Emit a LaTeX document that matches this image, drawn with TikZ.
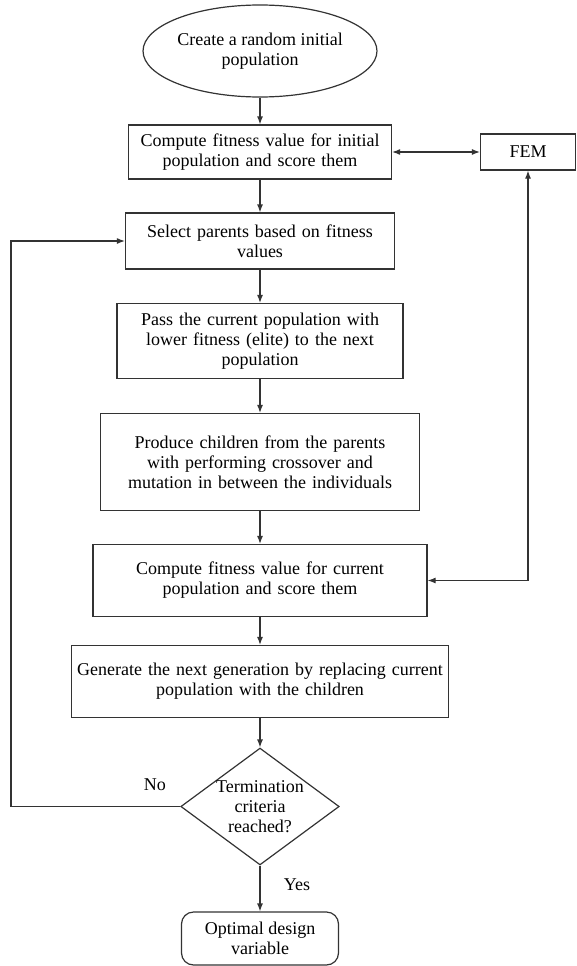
\documentclass[tikz,border=0pt]{standalone}
\usepackage{fontspec}
\setmainfont{Liberation Serif}
\usetikzlibrary{shapes.geometric,arrows.meta}

\begin{document}
\begin{tikzpicture}[
    x=1pt, y=1pt,
    node distance=100pt,
    font=\fontsize{18}{20}\selectfont,
    >={Latex[length=8pt,width=6pt]},
    process/.style={rectangle, draw=black!80, very thick, inner sep=4pt, text centered},
    startstop/.style={ellipse, draw=black!80, very thick, inner sep=0pt, minimum width=232pt, minimum height=92pt, align=center},
    decision/.style={diamond, draw=black!80, very thick, aspect=1.355, inner sep=0pt, align=center},
    finish/.style={rectangle, draw=black!80, very thick, rounded corners=12pt, minimum width=157pt, minimum height=53pt, align=center}
]
\useasboundingbox (0,0) rectangle (576,-966);

% Steps
\node[startstop] (start) at (260,-51) {Create a random initial\\population};

\node[process, below of=start, yshift=-1pt, text width=255pt, minimum height=54pt] (fitA) {
    Compute fitness value for initial\\
    population and score them
};

\node[process, right of=fitA, xshift=168pt, text width=87pt, minimum height=36pt] (fem) {FEM};

\node[process, below of=fitA, yshift=11pt, text width=261pt, minimum height=56pt] (select) {
    Select parents based on fitness\\
    values
};

\node[process, below of=select, text width=278pt, minimum height=75pt] (elite) {
    Pass the current population with\\
    lower fitness (elite) to the next\\
    population
};

\node[process, below of=elite, yshift=-21pt, text width=311pt, minimum height=97pt] (breed) {
    Produce children from the parents\\
    with performing crossover and\\
    mutation in between the individuals
};

\node[process, below of=breed, yshift=-18.5pt, text width=326pt, minimum height=72pt] (fitB) {
    Compute fitness value for current\\
    population and score them
};

\node[process, below of=fitB, yshift=-1pt, text width=369pt, minimum height=72pt] (nextgen) {
    Generate the next generation by replacing current\\
    population with the children
};

\node[decision, below of=nextgen, yshift=-25pt] (check) {Termination\\criteria\\reached?};

\node[finish, below of=check, yshift=-32pt] (done) {Optimal design\\variable};

\coordinate (back) at (11,0);

% Flow
\draw[->, very thick, black!80] (start) -- (fitA);
\draw[<->, very thick, black!80] (fitA) -- (fem);
\draw[->, very thick, black!80] (fitA) -- (select);
\draw[->, very thick, black!80] (select) -- (elite);
\draw[->, very thick, black!80] (elite) -- (breed);
\draw[->, very thick, black!80] (breed) -- (fitB);
\draw[<->, very thick, black!80] (fem) |- (fitB);
\draw[->, very thick, black!80] (fitB) -- (nextgen);
\draw[->, very thick, black!80] (nextgen) -- (check);
\draw[->, very thick, black!80] (check) -- (done) node[midway, right, xshift=20pt, yshift=4pt, black] {Yes};
\draw[->, very thick, black!80] (check.west) -- node[pos=0.15, above, yshift=12pt, black] {No} (check.west -| back) |- (select.west);

\end{tikzpicture}
\end{document}
